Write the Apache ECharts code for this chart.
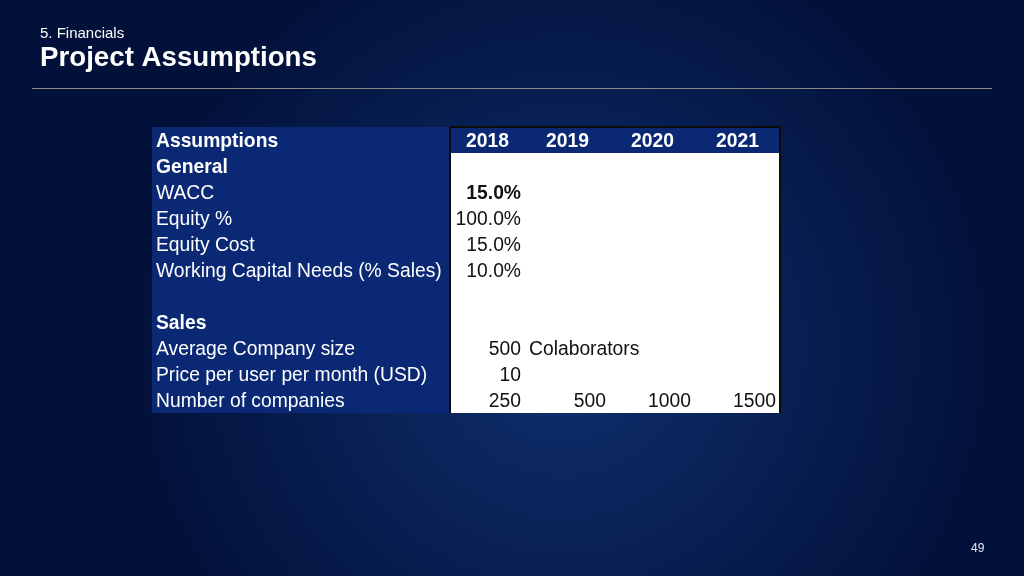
<!DOCTYPE html>
<html>
<head>
<meta charset="utf-8">
<title>Project Assumptions</title>
<script src="https://cdn.jsdelivr.net/npm/echarts@6/dist/echarts.min.js"></script>
<style>
  html, body { margin: 0; padding: 0; background: #041540; }
  #chart { width: 1024px; height: 576px; }
</style>
</head>
<body>
<div id="chart"></div>
<script>
// table rows (first column)
const rowLabels = [
  'Assumptions', 'General', 'WACC', 'Equity %', 'Equity Cost',
  'Working Capital Needs (% Sales)', '', 'Sales', 'Average Company size',
  'Price per user per month (USD)', 'Number of companies'
];
const boldRows = ['Assumptions', 'General', 'Sales'];
const years = ['2018', '2019', '2020', '2021'];

// values, one entry per year column
const waccPct = [15.0];
const equityPct = [100.0];
const equityCostPct = [15.0];
const workingCapitalPct = [10.0];
const avgCompanySize = [500];
const companySizeUnit = 'Colaborators';
const pricePerUser = [10];
const numCompanies = [250, 500, 1000, 1500];

// column edges in table units (label column + 4 year columns)
const colEdges = [0, 298, 373, 458, 543, 628];
const PAD = 4;
const FONT = '"Liberation Sans", Arial, sans-serif';

const pct = v => v.toFixed(1) + '%';

// build text cells
const cells = [];
rowLabels.forEach((label, r) => {
  if (!label) return;
  cells.push({ col: 0, row: r, text: label, align: 'left', bold: boldRows.includes(label), color: '#ffffff' });
});
years.forEach((y, i) => {
  cells.push({ col: i + 1, row: 0, text: y, align: 'center', bold: true, color: '#ffffff' });
});
const addRow = (row, arr, fmt, bold) => {
  arr.forEach((v, i) => {
    cells.push({ col: i + 1, row: row, text: fmt(v), align: 'right', bold: !!bold, color: '#111111' });
  });
};
addRow(2, waccPct, pct, true);
addRow(3, equityPct, pct);
addRow(4, equityCostPct, pct);
addRow(5, workingCapitalPct, pct);
addRow(8, avgCompanySize, v => String(v));
cells.push({ col: 2, row: 8, text: companySizeUnit, align: 'left', bold: false, color: '#111111' });
addRow(9, pricePerUser, v => String(v));
addRow(10, numCompanies, v => String(v));

// background panels of the table
const last = rowLabels.length - 1;
const panels = [
  { c0: 0, c1: 1, r0: 0, r1: last, fill: '#0a2873' },
  { c0: 1, c1: 5, r0: 0, r1: 0, fill: '#0a2873' },
  { c0: 1, c1: 5, r0: 1, r1: last, fill: '#ffffff' }
];

const chart = echarts.init(document.getElementById('chart'));

const option = {
  animation: false,
  graphic: [
    {
      type: 'rect', z: -10, silent: true,
      shape: { x: 0, y: 0, width: 1024, height: 576 },
      style: {
        fill: {
          type: 'radial', x: 0.55, y: 0.6, r: 0.75,
          colorStops: [
            { offset: 0, color: '#10306f' },
            { offset: 1, color: '#02113a' }
          ]
        }
      }
    },
    {
      type: 'text', left: 40, top: 26,
      style: { text: '5. Financials', fill: '#ffffff', font: '15px ' + FONT }
    },
    {
      type: 'text', left: 40, top: 44,
      style: { text: 'Project Assumptions', fill: '#ffffff', font: 'bold 27.7px ' + FONT }
    },
    {
      type: 'line',
      shape: { x1: 32, y1: 88.5, x2: 992, y2: 88.5 },
      style: { stroke: '#8a8a8a', lineWidth: 1 }
    },
    {
      type: 'text', left: 971, top: 543,
      style: { text: '49', fill: '#e6e9f2', font: '12px ' + FONT }
    }
  ],
  grid: { left: 152, top: 127, width: 628, height: 286 },
  xAxis: { type: 'value', min: 0, max: 628, show: false },
  yAxis: { type: 'category', inverse: true, data: rowLabels, show: false },
  series: [
    {
      type: 'custom',
      name: 'panels',
      silent: true,
      z: 1,
      data: panels.map(p => [colEdges[p.c0], p.r0]),
      renderItem: function (params, api) {
        const p = panels[params.dataIndex];
        const h = api.size([0, 1])[1];
        const a = api.coord([colEdges[p.c0], p.r0]);
        const b = api.coord([colEdges[p.c1], p.r1]);
        return {
          type: 'rect',
          shape: { x: a[0], y: a[1] - h / 2, width: b[0] - a[0], height: b[1] - a[1] + h },
          style: { fill: p.fill }
        };
      }
    },
    {
      type: 'custom',
      name: 'frame',
      silent: true,
      z: 2,
      data: [[colEdges[1], 0]],
      renderItem: function (params, api) {
        const h = api.size([0, 1])[1];
        const a = api.coord([colEdges[1], 0]);
        const b = api.coord([colEdges[5], last]);
        const top = a[1] - h / 2, bottom = b[1] + h / 2;
        return {
          type: 'polyline',
          shape: { points: [[a[0], bottom], [a[0], top], [b[0], top], [b[0], bottom]] },
          style: { stroke: '#0b0b0b', lineWidth: 2, fill: null }
        };
      }
    },
    {
      type: 'custom',
      name: 'cells',
      silent: true,
      z: 3,
      data: cells.map(c => [colEdges[c.col], c.row]),
      renderItem: function (params, api) {
        const c = cells[params.dataIndex];
        let xv;
        if (c.align === 'left') xv = colEdges[c.col] + PAD;
        else if (c.align === 'right') xv = colEdges[c.col + 1] - PAD;
        else xv = (colEdges[c.col] + colEdges[c.col + 1]) / 2;
        const pt = api.coord([xv, c.row]);
        return {
          type: 'text',
          style: {
            x: pt[0], y: pt[1] + 1.5,
            text: c.text,
            fill: c.color,
            font: (c.bold ? 'bold ' : '') + '19.3px ' + FONT,
            align: c.align, verticalAlign: 'middle',
            textAlign: c.align, textVerticalAlign: 'middle'
          }
        };
      }
    }
  ]
};

chart.setOption(option);
</script>
</body>
</html>
